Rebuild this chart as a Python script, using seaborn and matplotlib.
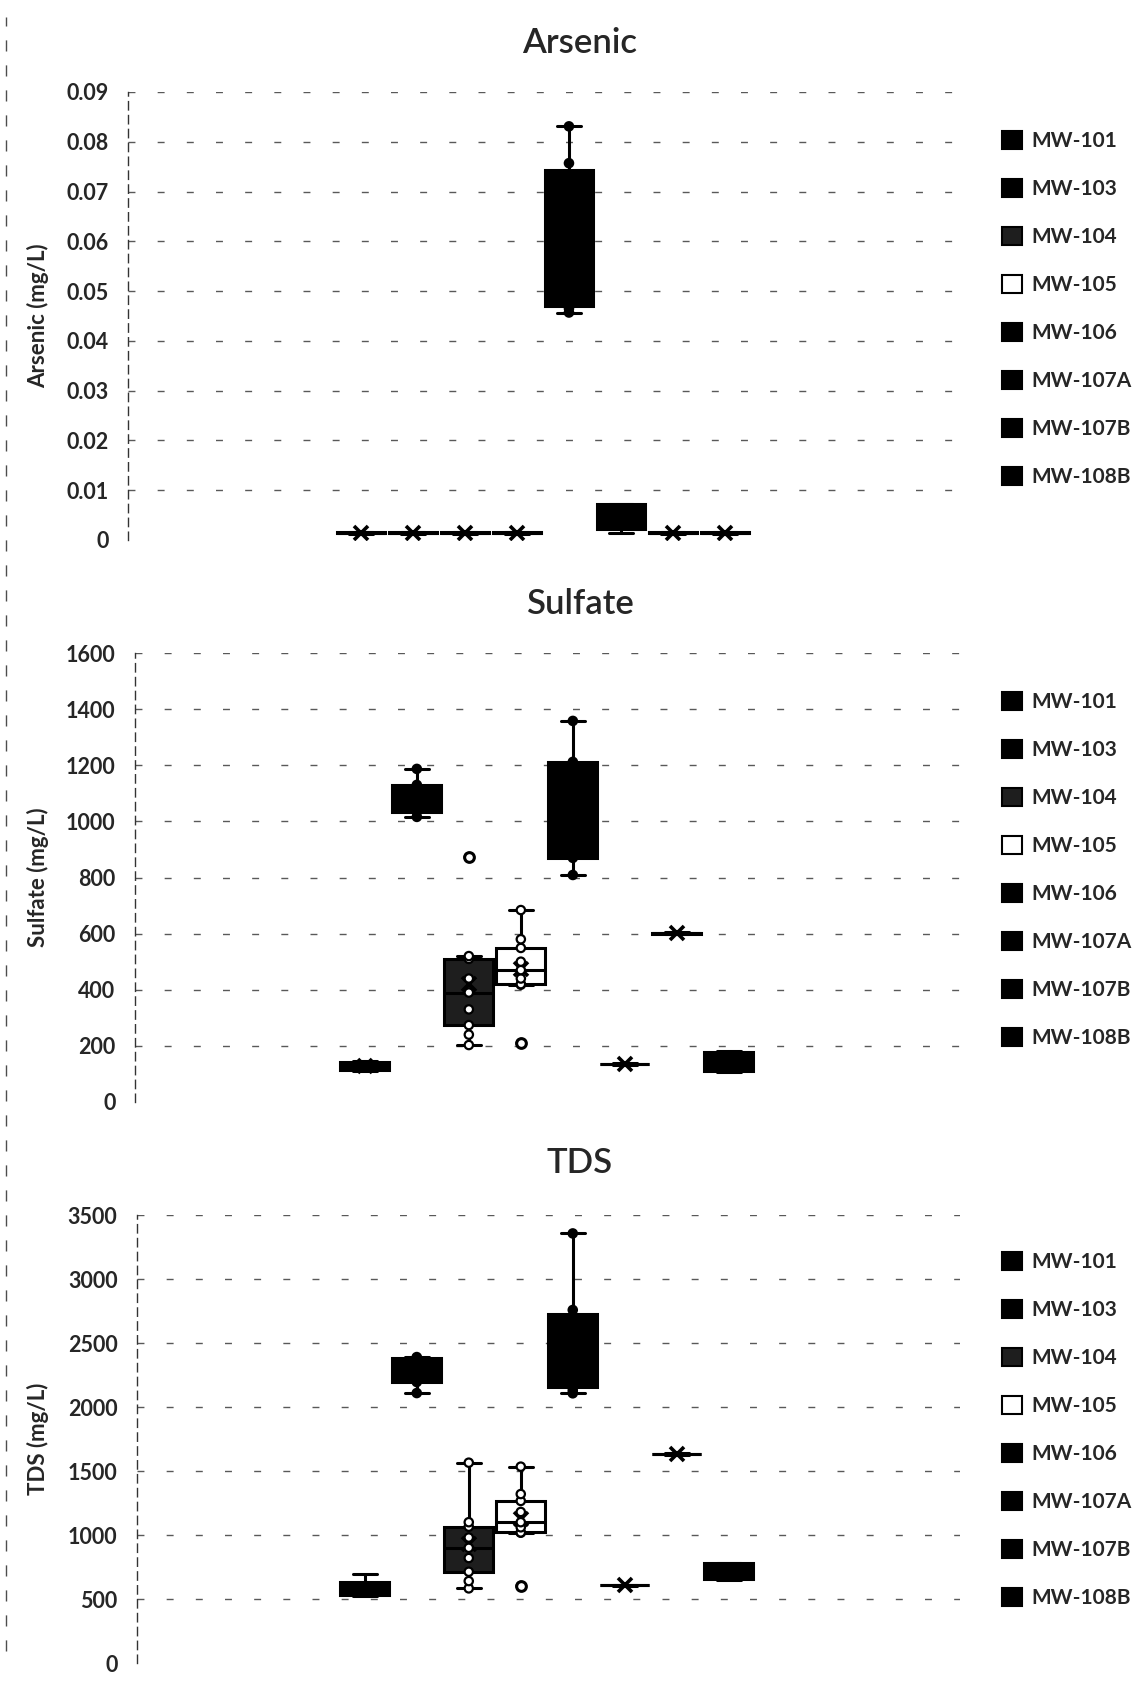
import numpy as np
import pandas as pd
import matplotlib
matplotlib.use("Agg")
import matplotlib.pyplot as plt
from matplotlib.patches import Patch
import seaborn as sns

# ---------------- data ----------------
wells = ["MW-101", "MW-103", "MW-104", "MW-105", "MW-106", "MW-107A", "MW-107B", "MW-108B"]
well_colors = ["#000000", "#000000", "#1e1e1e", "#ffffff", "#000000", "#000000", "#000000", "#000000"]
point_colors = ["#000000", "#000000", "#ffffff", "#ffffff", "#000000", "#000000", "#000000", "#000000"]

# Arsenic (mg/L) samples per well
arsenic_mw101 = [0.0013, 0.0014, 0.0015, 0.0016, 0.0017]
arsenic_mw103 = [0.0013, 0.0014, 0.0015, 0.0016, 0.0017]
arsenic_mw104 = [0.0013, 0.0014, 0.0015, 0.0016, 0.0017]
arsenic_mw105 = [0.0013, 0.0014, 0.0015, 0.0016, 0.0017]
arsenic_mw106 = [0.0457, 0.0465, 0.0485, 0.0701, 0.0757, 0.0831]
arsenic_mw107a = [0.0014, 0.0022, 0.0040, 0.0072, 0.0072]
arsenic_mw107b = [0.0013, 0.0014, 0.0015, 0.0016, 0.0017]
arsenic_mw108b = [0.0013, 0.0014, 0.0015, 0.0016, 0.0017]

# Sulfate (mg/L) samples per well
sulfate_mw101 = [112, 114, 130, 143, 146]
sulfate_mw103 = [1016, 1034, 1080, 1130, 1187]
sulfate_mw104 = [203, 240, 274, 330, 390, 440, 510, 520, 873]
sulfate_mw105 = [210, 418, 420, 440, 470, 500, 549, 580, 684]
sulfate_mw106 = [809, 870, 1000, 1212, 1358]
sulfate_mw107a = [132, 134, 135, 136, 138]
sulfate_mw107b = [598, 600, 602, 603, 605]
sulfate_mw108b = [108, 110, 140, 178, 180]

# TDS (mg/L) samples per well
tds_mw101 = [525, 531, 580, 631, 693]
tds_mw103 = [2109, 2195, 2290, 2383, 2390]
tds_mw104 = [583, 640, 713, 820, 900, 980, 1065, 1100, 1565]
tds_mw105 = [602, 1018, 1020, 1060, 1100, 1180, 1266, 1320, 1534]
tds_mw106 = [2107, 2130, 2250, 2622, 2758, 3356]
tds_mw107a = [605, 607, 609, 611, 613]
tds_mw107b = [1628, 1630, 1633, 1635, 1638]
tds_mw108b = [650, 656, 720, 781, 785]

arsenic_ticks = [0, 0.01, 0.02, 0.03, 0.04, 0.05, 0.06, 0.07, 0.08, 0.09]
arsenic_ticklabels = ["0", "0.01", "0.02", "0.03", "0.04", "0.05", "0.06", "0.07", "0.08", "0.09"]
sulfate_ticks = [0, 200, 400, 600, 800, 1000, 1200, 1400, 1600]
tds_ticks = [0, 500, 1000, 1500, 2000, 2500, 3000, 3500]

titles = ["Arsenic", "Sulfate", "TDS"]
ylabels = ["Arsenic (mg/L)", "Sulfate (mg/L)", "TDS (mg/L)"]

# wells whose mean marker (X) is visible, and wells whose inner points are visible
mean_wells = [
    ["MW-101", "MW-103", "MW-104", "MW-105", "MW-107B", "MW-108B"],
    ["MW-101", "MW-104", "MW-105", "MW-107A", "MW-107B"],
    ["MW-104", "MW-105", "MW-107A", "MW-107B"],
]
point_wells = [
    ["MW-106"],
    ["MW-103", "MW-104", "MW-105", "MW-106"],
    ["MW-103", "MW-104", "MW-105", "MW-106"],
]


def long_frame(groups):
    rows = []
    for w, vals in zip(wells, groups):
        for v in vals:
            rows.append((w, v))
    return pd.DataFrame(rows, columns=["well", "value"])


df_as = long_frame([arsenic_mw101, arsenic_mw103, arsenic_mw104, arsenic_mw105,
                    arsenic_mw106, arsenic_mw107a, arsenic_mw107b, arsenic_mw108b])
df_so4 = long_frame([sulfate_mw101, sulfate_mw103, sulfate_mw104, sulfate_mw105,
                     sulfate_mw106, sulfate_mw107a, sulfate_mw107b, sulfate_mw108b])
df_tds = long_frame([tds_mw101, tds_mw103, tds_mw104, tds_mw105,
                     tds_mw106, tds_mw107a, tds_mw107b, tds_mw108b])

palette = dict(zip(wells, well_colors))
point_palette = dict(zip(wells, point_colors))

# ---------------- figure ----------------
sns.set_theme(style="white")
plt.rcParams["font.family"] = ["Lato", "DejaVu Sans"]
plt.rcParams["font.weight"] = "bold"

W, H = 1143, 1685
fig = plt.figure(figsize=(W / 100, H / 100), dpi=100)
fig.patch.set_facecolor("white")

panels = [
    (128, 960, 92, 540, 4.48, (0, 0.09), arsenic_ticks, arsenic_ticklabels, 43, 309, df_as),
    (135, 960, 653, 1102, 4.42, (0, 1600), sulfate_ticks, [str(t) for t in sulfate_ticks], 604, 870, df_so4),
    (137, 960, 1215, 1663, 4.38, (0, 3500), tds_ticks, [str(t) for t in tds_ticks], 1163, 1430, df_tds),
]

for i, (lpx, rpx, tpx, bpx, xoff, ylim, ticks, tlabels, ty, ly, df) in enumerate(panels):
    ax = fig.add_axes([lpx / W, 1 - bpx / H, (rpx - lpx) / W, (bpx - tpx) / H])
    span = (rpx - lpx) / 52.0
    for t in ticks[1:]:
        ax.axhline(t, color="0.35", lw=1.0, ls=(0, (5, 16)), zorder=0)
    sns.boxplot(
        data=df, x="well", y="value", hue="well", order=wells, hue_order=wells,
        palette=palette, saturation=1, width=0.94, gap=0, linewidth=2.2,
        linecolor="black", whis=1.5, showmeans=False, legend=False,
        flierprops=dict(marker="o", markerfacecolor="white", markeredgecolor="black",
                        markersize=7, markeredgewidth=2.2, zorder=6),
        ax=ax,
    )
    dpts = df[df["well"].isin(point_wells[i])]
    sns.stripplot(
        data=dpts, x="well", y="value", hue="well", order=wells, hue_order=wells,
        palette=point_palette, jitter=False, size=6, linewidth=1.6,
        edgecolor="black", legend=False, zorder=5, ax=ax,
    )
    dmean = df[df["well"].isin(mean_wells[i])]
    sns.pointplot(
        data=dmean, x="well", y="value", order=wells, estimator="mean",
        errorbar=None, linestyle="none", markers="x", color="black",
        markersize=10, markeredgewidth=2.6, ax=ax,
    )
    for coll in ax.collections:
        coll.set_zorder(5)
    ax.set_xlim(-xoff, -xoff + span)
    ax.set_ylim(*ylim)
    ax.set_xlabel("")
    ax.set_ylabel("")
    ax.set_xticks([])
    ax.set_yticks(ticks)
    ax.set_yticklabels(tlabels, fontsize=15.5, fontweight="bold")
    ax.tick_params(axis="y", length=0, pad=14)
    for s in ["top", "right", "bottom"]:
        ax.spines[s].set_visible(False)
    ax.spines["left"].set_color("0.2")
    ax.spines["left"].set_linewidth(1.0)
    ax.spines["left"].set_linestyle((0, (6, 4)))
    ax.set_facecolor("white")
    ax.grid(False)

    fig.text(580 / W, 1 - ty / H, titles[i], ha="center", va="center",
             fontsize=25, fontweight="semibold")
    fig.text(38 / W, 1 - ((tpx + bpx) / 2) / H, ylabels[i], ha="center", va="center",
             rotation=90, fontsize=16, fontweight="bold")

    handles = [Patch(facecolor=c, edgecolor="black", linewidth=1.5) for c in well_colors]
    fig.legend(handles, wells, loc="center left", bbox_to_anchor=(992 / W, 1 - ly / H),
               frameon=False, handlelength=0.95, handleheight=0.95,
               handletextpad=0.45, labelspacing=1.34, borderpad=0.0,
               prop=dict(size=15, weight="bold"))

# faint scan border on the left
fig.add_artist(plt.Line2D([6 / W, 6 / W], [0.02, 0.99], color="0.3", lw=1,
                          ls=(0, (8, 10)), transform=fig.transFigure))

fig.savefig("out.png", dpi=100, facecolor="white")
